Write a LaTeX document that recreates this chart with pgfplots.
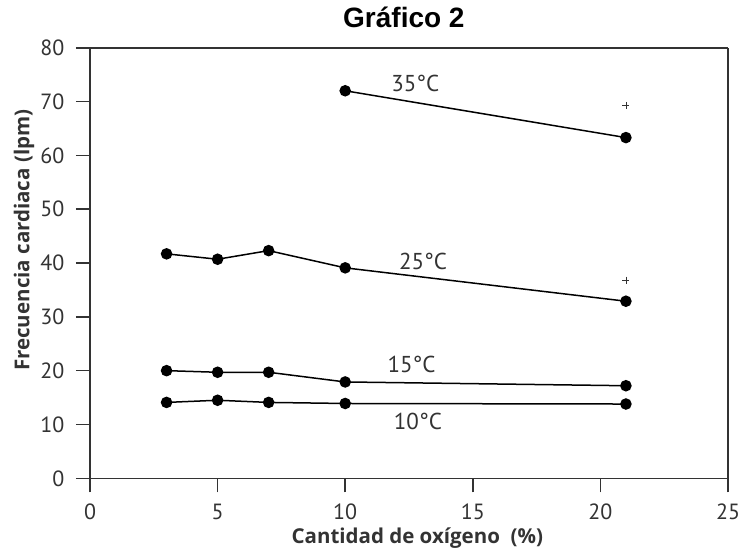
\documentclass[border=0pt]{standalone}
\usepackage{pgfplots}
\pgfplotsset{compat=1.18}
\usepackage{fontspec}
\setmainfont{PT Sans}
\newfontfamily\labelfont{Open Sans}
\newfontfamily\titlefont{Liberation Sans}
\begin{document}
\begin{tikzpicture}
\begin{axis}[
  scale only axis,
  width=638pt, height=430.6pt,
  xmin=0, xmax=25, ymin=0, ymax=80,
  xtick={0,5,10,15,20,25},
  ytick={0,10,20,30,40,50,60,70,80},
  tick align=outside,
  major tick length=14pt,
  tick pos=left,
  separate axis lines,
  axis line style={line width=1.6pt, black!80},
  tick style={line width=1.6pt, black!80},
  /pgf/number format/assume math mode=true,
  tick label style={font=\fontsize{22}{22}\selectfont, text=black!80},
  xticklabel style={yshift=-8pt},
  yticklabel style={xshift=-8pt},
  xlabel={\labelfont\bfseries Cantidad de oxígeno~~(\%)},
  ylabel={\labelfont\bfseries Frecuencia cardiaca (lpm)},
  xlabel style={font=\fontsize{20.5}{20.5}\selectfont, text=black!80, at={(axis description cs:0.513,-0.139)}, anchor=center},
  ylabel style={font=\fontsize{20.5}{20.5}\selectfont, text=black!80, at={(axis description cs:-0.1034,0.553)}, anchor=center, rotate=0},
  title={\titlefont\bfseries Gráfico 2},
  title style={font=\fontsize{28}{28}\selectfont, at={(axis description cs:0.492,1.034)}, anchor=base},
  clip=false,
]
% 35 C
\addplot[black, line width=1.5pt, mark=*, mark size=5pt] coordinates {(10,72.0) (21,63.3)};
% 25 C
\addplot[black, line width=1.5pt, mark=*, mark size=5pt] coordinates {(3,41.7) (5,40.7) (7,42.3) (10,39.1) (21,32.9)};
% 15 C
\addplot[black, line width=1.5pt, mark=*, mark size=5pt] coordinates {(3,20.0) (5,19.7) (7,19.7) (10,17.9) (21,17.2)};
% 10 C
\addplot[black, line width=1.5pt, mark=*, mark size=5pt] coordinates {(3,14.1) (5,14.5) (7,14.1) (10,13.9) (21,13.8)};
% plus marks
\addplot[only marks, mark=+, mark size=3.5pt, line width=0.8pt, black!80] coordinates {(21,69.3) (21,36.8)};
\node[font=\fontsize{23}{23}\selectfont, text=black!80] at (axis cs:12.75,73.3) {35°C};
\node[font=\fontsize{23}{23}\selectfont, text=black!80] at (axis cs:13.05,40.3) {25°C};
\node[font=\fontsize{23}{23}\selectfont, text=black!80] at (axis cs:12.6,21.1) {15°C};
\node[font=\fontsize{23}{23}\selectfont, text=black!80] at (axis cs:12.85,10.6) {10°C};
\end{axis}
\pgfresetboundingbox
\path (-90pt,-75.7pt) rectangle (653pt,478.3pt);
\end{tikzpicture}
\end{document}
